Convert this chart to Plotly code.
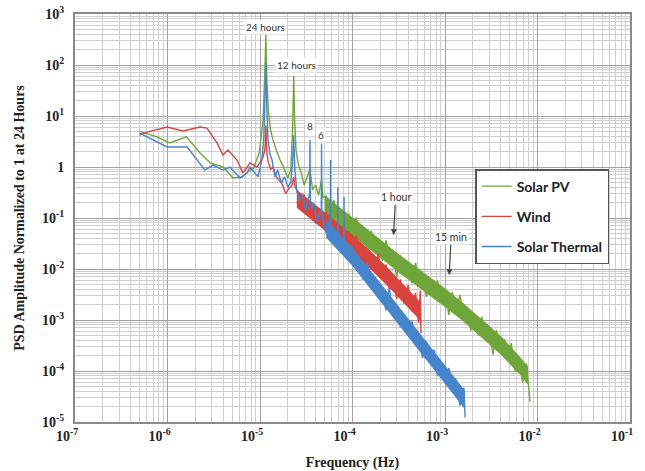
import math
import plotly.graph_objects as go

# ---------------- data ----------------
pv_freq = [5.0e-7, 7.7e-7, 1.06e-6, 1.6e-6, 2.25e-6, 2.9e-6, 4.0e-6, 5.1e-6, 6.5e-6, 7.3e-6,
           8.5e-6, 9.8e-6, 1.08e-5, 1.13e-5, 1.157e-5, 1.185e-5, 1.23e-5, 1.3e-5, 1.38e-5, 1.5e-5,
           1.65e-5, 1.8e-5, 2.0e-5, 2.15e-5, 2.25e-5, 2.315e-5, 2.37e-5, 2.45e-5, 2.6e-5, 2.8e-5,
           3.0e-5, 3.2e-5, 3.47e-5, 3.7e-5, 4.0e-5, 4.3e-5, 4.63e-5, 4.8e-5,
           5.2e-5, 5.7e-5, 6.3e-5, 6.9e-5, 7.6e-5, 8.3e-5, 9.1e-5,
           1.0e-4, 1.1e-4, 1.2e-4, 1.3e-4, 1.45e-4, 1.6e-4, 1.75e-4, 1.9e-4, 2.1e-4, 2.3e-4,
           2.5e-4, 2.75e-4, 3.0e-4, 3.3e-4, 3.6e-4, 4.0e-4, 4.4e-4, 4.8e-4, 5.2e-4, 5.7e-4,
           6.3e-4, 6.9e-4, 7.6e-4, 8.3e-4, 9.1e-4,
           1.0e-3, 1.1e-3, 1.2e-3, 1.3e-3, 1.45e-3, 1.6e-3, 1.75e-3, 1.9e-3, 2.1e-3, 2.3e-3,
           2.5e-3, 2.75e-3, 3.0e-3, 3.3e-3, 3.6e-3, 4.0e-3, 4.4e-3, 4.8e-3, 5.2e-3, 5.7e-3,
           6.3e-3, 6.9e-3, 7.6e-3, 8.3e-3]
pv_amp = [5.0, 3.9, 2.96, 3.9, 1.88, 1.2, 1.0, 0.61, 0.64, 0.79,
          0.94, 1.88, 8.3, 80, 390, 51, 13, 5.3, 3.4, 2.15,
          1.37, 0.98, 0.61, 0.87, 5.3, 61, 8.3, 2.15, 1.1, 0.76,
          0.44, 0.61, 0.9, 0.36, 0.44, 0.28, 0.55, 0.25,
          0.27, 0.115, 0.224, 0.076, 0.135, 0.052, 0.123,
          0.056, 0.102, 0.036, 0.058, 0.021, 0.056, 0.023, 0.039, 0.0145, 0.037,
          0.0145, 0.022, 0.0069, 0.0186, 0.0078, 0.012, 0.0052, 0.0132, 0.0056, 0.0089,
          0.0028, 0.0065, 0.0027, 0.0059, 0.0023,
          0.0036, 0.00126, 0.0035, 0.00132, 0.0031, 0.00112, 0.00174, 6.2e-4, 0.00123, 5.0e-4,
          0.00115, 4.4e-4, 6.3e-4, 2.1e-4, 6.3e-4, 2.2e-4, 4.2e-4, 1.74e-4, 3.5e-4, 1.0e-4,
          1.9e-4, 5.9e-5, 1.4e-4, 2.5e-5]

# core of the noisy band (upper / lower edge)
pv_band_freq = [5.0e-5, 1.0e-4, 2.0e-4, 3.16e-4, 5.0e-4, 1.0e-3, 1.58e-3, 2.5e-3, 4.0e-3, 6.3e-3, 7.9e-3]
pv_band_upper = [0.28, 0.105, 0.038, 0.0195, 0.0105, 0.0042, 0.00214, 0.00102, 4.9e-4, 2.0e-4, 1.23e-4]
pv_band_lower = [0.123, 0.046, 0.0166, 0.0085, 0.0046, 0.0018, 9.3e-4, 4.5e-4, 2.1e-4, 8.9e-5, 5.4e-5]

wind_freq = [5.0e-7, 6.15e-7, 9.9e-7, 1.47e-6, 2.25e-6, 2.67e-6, 3.43e-6, 3.98e-6, 4.5e-6, 5.64e-6,
             6.55e-6, 7.8e-6, 9.3e-6, 1.08e-5, 1.13e-5, 1.157e-5, 1.185e-5, 1.22e-5, 1.3e-5, 1.38e-5,
             1.5e-5, 1.6e-5, 1.75e-5, 1.9e-5, 2.05e-5, 2.2e-5, 2.315e-5, 2.4e-5,
             2.5e-5, 2.75e-5, 3.0e-5, 3.3e-5, 3.6e-5, 4.0e-5, 4.4e-5, 4.8e-5, 5.2e-5, 5.7e-5,
             6.3e-5, 6.9e-5, 7.6e-5, 8.3e-5, 9.1e-5,
             1.0e-4, 1.1e-4, 1.2e-4, 1.3e-4, 1.45e-4, 1.6e-4, 1.75e-4, 1.9e-4, 2.1e-4, 2.3e-4,
             2.5e-4, 2.75e-4, 3.0e-4, 3.3e-4, 3.6e-4, 4.0e-4, 4.4e-4, 4.8e-4, 5.2e-4, 5.4e-4, 5.5e-4]
wind_amp = [4.2, 4.9, 6.1, 5.1, 6.1, 5.8, 2.96, 1.72, 2.15, 1.37,
            0.76, 1.2, 1.0, 1.57, 2.2, 6.5, 2.0, 1.3, 0.9, 1.0,
            0.64, 0.56, 0.45, 0.30, 0.38, 0.42, 0.64, 0.40,
            0.35, 0.166, 0.29, 0.132, 0.19, 0.078, 0.155, 0.078, 0.132, 0.051,
            0.079, 0.034, 0.066, 0.032, 0.055,
            0.022, 0.045, 0.0186, 0.030, 0.010, 0.0195, 0.0085, 0.020, 0.0068, 0.0123,
            0.0040, 0.0079, 0.0026, 0.0063, 0.0021, 0.0049, 0.00145, 0.0034, 8.9e-4, 0.0038, 5.5e-4]

wind_band_freq = [2.5e-5, 4.0e-5, 6.3e-5, 1.0e-4, 1.58e-4, 2.5e-4, 4.0e-4, 5.4e-4]
wind_band_upper = [0.36, 0.182, 0.093, 0.047, 0.0224, 0.0098, 0.0040, 0.00224]
wind_band_lower = [0.158, 0.079, 0.041, 0.020, 0.0098, 0.0043, 0.00174, 9.8e-4]

thermal_freq = [5.0e-7, 9.9e-7, 1.63e-6, 2.54e-6, 3.1e-6, 3.98e-6, 4.74e-6, 6.08e-6, 7.2e-6, 7.8e-6,
                9.5e-6, 1.05e-5, 1.1e-5, 1.13e-5, 1.157e-5, 1.185e-5, 1.22e-5, 1.28e-5, 1.35e-5, 1.45e-5,
                1.55e-5, 1.7e-5, 1.85e-5, 2.0e-5, 2.15e-5, 2.25e-5, 2.315e-5, 2.38e-5, 2.5e-5, 2.7e-5,
                2.9e-5, 3.1e-5, 3.3e-5, 3.44e-5, 3.47e-5, 3.5e-5, 3.6e-5, 3.8e-5, 4.1e-5, 4.4e-5,
                4.6e-5, 4.63e-5, 4.66e-5, 4.8e-5, 5.2e-5, 5.5e-5, 5.76e-5, 5.79e-5, 5.82e-5, 6.1e-5,
                6.5e-5, 6.9e-5, 6.94e-5, 6.98e-5, 7.3e-5, 7.7e-5, 8.05e-5, 8.1e-5, 8.15e-5, 8.6e-5, 9.1e-5,
                1.0e-4, 1.1e-4, 1.2e-4, 1.3e-4, 1.45e-4, 1.6e-4, 1.75e-4, 1.9e-4, 2.1e-4, 2.3e-4,
                2.5e-4, 2.75e-4, 3.0e-4, 3.3e-4, 3.6e-4, 4.0e-4, 4.4e-4, 4.8e-4, 5.2e-4, 5.7e-4,
                6.3e-4, 6.9e-4, 7.6e-4, 8.3e-4, 9.1e-4,
                1.0e-3, 1.1e-3, 1.2e-3, 1.3e-3, 1.45e-3, 1.6e-3, 1.65e-3]
thermal_amp = [4.6, 2.47, 2.47, 0.87, 1.09, 0.87, 1.0, 0.61, 0.76, 1.0,
               0.64, 1.37, 4.0, 20, 115, 15, 3.5, 1.8, 1.37, 0.64,
               0.87, 0.49, 0.64, 0.40, 0.50, 1.2, 4.2, 0.9, 0.35, 0.22,
               0.30, 0.14, 0.22, 0.3, 3.4, 0.25, 0.15, 0.2, 0.085, 0.13,
               0.15, 2.9, 0.12, 0.09, 0.05, 0.08, 0.08, 1.37, 0.07, 0.04,
               0.06, 0.05, 0.4, 0.04, 0.025, 0.04, 0.03, 0.26, 0.03, 0.018, 0.03,
               0.027, 0.0105, 0.0155, 0.0062, 0.0135, 0.0048, 0.0069, 0.0027, 0.0041, 0.00155,
               0.0043, 0.00132, 0.0020, 7.1e-4, 0.00123, 5.1e-4, 9.5e-4, 3.2e-4, 5.5e-4, 1.8e-4,
               3.8e-4, 1.55e-4, 2.6e-4, 8.1e-5, 1.5e-4,
               5.8e-5, 1.15e-4, 4.0e-5, 7.2e-5, 2.1e-5, 4.7e-5, 1.23e-5]

thermal_band_freq = [5.2e-5, 1.0e-4, 1.58e-4, 2.5e-4, 4.0e-4, 6.3e-4, 1.0e-3, 1.58e-3, 1.64e-3]
thermal_band_upper = [0.093, 0.026, 0.0091, 0.0032, 0.00107, 3.7e-4, 1.29e-4, 4.5e-5, 4.1e-5]
thermal_band_lower = [0.041, 0.0115, 0.0040, 0.00138, 4.7e-4, 1.62e-4, 5.6e-5, 1.95e-5, 1.78e-5]

series_names = ["Solar PV", "Wind", "Solar Thermal"]

x_tick_vals = [1e-7, 1e-6, 1e-5, 1e-4, 1e-3, 1e-2, 1e-1]
x_tick_text = ["10<sup>-7</sup>", "10<sup>-6</sup>", "10<sup>-5</sup>", "10<sup>-4</sup>",
               "10<sup>-3</sup>", "10<sup>-2</sup>", "10<sup>-1</sup>"]
y_tick_vals = [1e3, 1e2, 1e1, 1, 1e-1, 1e-2, 1e-3, 1e-4, 1e-5]
y_tick_text = ["10<sup>3</sup>", "10<sup>2</sup>", "10<sup>1</sup>", "1", "10<sup>-1</sup>",
               "10<sup>-2</sup>", "10<sup>-3</sup>", "10<sup>-4</sup>", "10<sup>-5</sup>"]

period_labels = ["24 hours", "12 hours", "8", "6"]
period_label_freq = [1.16e-5, 2.45e-5, 3.5e-5, 4.56e-5]
period_label_amp = [556, 100, 6.4, 4.2]

marker_labels = ["1 hour", "15 min"]
marker_freq = [2.78e-4, 1.11e-3]
marker_amp = [0.046, 0.0076]

# ---------------- styling ----------------
colors = ["#70a53a", "#d9443e", "#4684cb"]
serif = "Liberation Serif"
sans = "Lato"

fig = go.Figure()
for name, fx, ay, bf, bu, bl, col in zip(
        series_names,
        [pv_freq, wind_freq, thermal_freq],
        [pv_amp, wind_amp, thermal_amp],
        [pv_band_freq, wind_band_freq, thermal_band_freq],
        [pv_band_upper, wind_band_upper, thermal_band_upper],
        [pv_band_lower, wind_band_lower, thermal_band_lower],
        colors):
    fig.add_trace(go.Scatter(x=list(bf) + list(bf)[::-1], y=list(bu) + list(bl)[::-1],
                             mode="lines", fill="toself", fillcolor=col, line=dict(width=0, color=col),
                             showlegend=False, legendgroup=name, hoverinfo="skip"))
    fig.add_trace(go.Scatter(x=fx, y=ay, mode="lines", name=name, legendgroup=name,
                             line=dict(color=col, width=1.4, simplify=False)))

minor_x = [m * 10.0 ** e for e in range(-7, -1) for m in range(2, 10)]
minor_y = [m * 10.0 ** e for e in range(-5, 3) for m in range(2, 10)]

axis_common = dict(showline=True, mirror=True, linecolor="#8a8a8a", linewidth=2,
                   gridcolor="#a3a3a3", gridwidth=1, zeroline=False, ticks="",
                   tickfont=dict(family=serif, size=14, color="#222", weight="bold"))

fig.update_xaxes(type="log", range=[-7, -1], tickmode="array", tickvals=x_tick_vals,
                 ticktext=x_tick_text, ticklabelshift=-8,
                 minor=dict(tickmode="array", tickvals=minor_x, showgrid=True, gridcolor="#cfcfcf"),
                 title=dict(text="Frequency (Hz)", font=dict(family=serif, size=14, color="#222", weight="bold"),
                            standoff=15),
                 **axis_common)
fig.update_yaxes(type="log", range=[-5, 3], tickmode="array", tickvals=y_tick_vals,
                 ticktext=y_tick_text, ticklabelstandoff=6,
                 minor=dict(tickmode="array", tickvals=minor_y, showgrid=True, gridcolor="#cfcfcf"),
                 title=dict(text="PSD Amplitude Normalized to 1 at 24 Hours",
                            font=dict(family=serif, size=14, color="#222", weight="bold"), standoff=14),
                 **axis_common)

annotations = []
for txt, fx, ay in zip(period_labels, period_label_freq, period_label_amp):
    annotations.append(dict(x=math.log10(fx), y=math.log10(ay), xref="x", yref="y", text=txt,
                            showarrow=False, bgcolor="white",
                            font=dict(family=sans, size=10, color="#333")))
for txt, fx, ay in zip(marker_labels, marker_freq, marker_amp):
    annotations.append(dict(x=math.log10(fx), y=math.log10(ay), xref="x", yref="y", text=txt,
                            showarrow=True, arrowhead=2, arrowsize=1, arrowwidth=1.2,
                            arrowcolor="#444", ax=2, ay=-38, bgcolor="white",
                            font=dict(family=sans, size=10.5, color="#333")))

fig.update_layout(
    width=645, height=471,
    margin=dict(l=75, r=15, t=14, b=49, autoexpand=False),
    paper_bgcolor="white", plot_bgcolor="white",
    showlegend=True,
    legend=dict(x=0.721, y=0.62, xanchor="left", yanchor="top", bgcolor="white",
                bordercolor="#555", borderwidth=1.5, tracegroupgap=9, itemwidth=30,
                font=dict(family=sans, size=14, color="#222", weight="bold")),
    annotations=annotations,
)

fig.write_html("out.html", config={"displayModeBar": False},
               post_script="document.body.style.margin='0';document.body.style.overflow='hidden';")
